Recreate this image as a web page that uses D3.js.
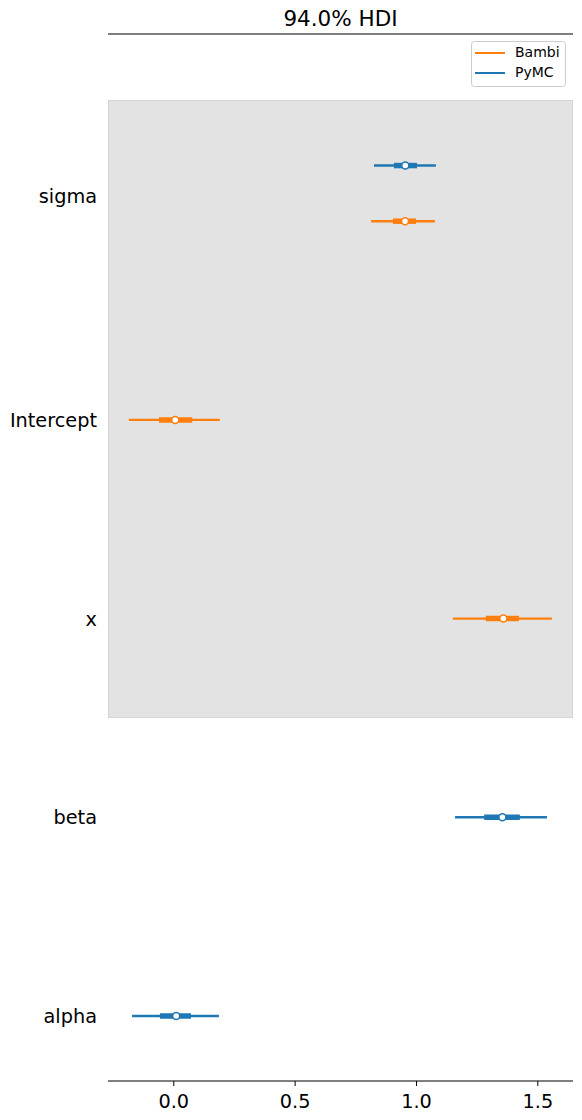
<!DOCTYPE html>
<html><head><meta charset="utf-8">
<script src="https://cdn.jsdelivr.net/npm/d3@7"></script>
<style>body{margin:0;background:#fff}svg{display:block;font-family:"DejaVu Sans",sans-serif}</style>
</head><body><div id="chart"></div>
<script>
// Rows (top to bottom) and estimates per model
const variables = ["sigma", "Intercept", "x", "beta", "alpha"];
const models = ["Bambi", "PyMC"];
const colors = {Bambi: "#ff7f0e", PyMC: "#1f77b4"};
// [variable, hdiLow, iqrLow, median, iqrHigh, hdiHigh]
const bambiEst = [
  ["sigma", 0.815, 0.905, 0.955, 1.000, 1.078],
  ["Intercept", -0.183, -0.059, 0.008, 0.078, 0.192],
  ["x", 1.152, 1.288, 1.360, 1.424, 1.560]
];
const pymcEst = [
  ["sigma", 0.827, 0.909, 0.956, 1.004, 1.082],
  ["beta", 1.161, 1.281, 1.356, 1.428, 1.540],
  ["alpha", -0.170, -0.055, 0.012, 0.073, 0.188]
];
const xTicks = [0.0, 0.5, 1.0, 1.5];
const titleText = "94.0% HDI";

const W = 582, H = 1120;
const mLeft = 108, mRight = 573, mTop = 34, mBottom = 1081;
const svg = d3.select("#chart").append("svg").attr("width", W).attr("height", H);

const x = d3.scaleLinear().domain([-0.269, 1.647]).range([mLeft, mRight]);
// row index: alpha=0 at bottom, sigma=4 at top
const rowIndex = v => variables.length - 1 - variables.indexOf(v);
const y = d3.scaleLinear().domain([0, 1]).range([1016, 817.3]);
const modelOffset = {Bambi: 0, PyMC: 0.28};
const allEst = bambiEst.concat(pymcEst);
const shared = v => allEst.filter(e => e[0] === v).length > 1;

// shaded band for Bambi variables
const bambiVars = bambiEst.map(d => d[0]);
svg.append("rect")
  .attr("x", mLeft + 0.5).attr("y", 100.5)
  .attr("width", mRight - mLeft - 1).attr("height", 617)
  .attr("fill", "#e3e3e3").attr("stroke", "#d5d5d5").attr("stroke-width", 1);

// top spine
svg.append("line").attr("x1", mLeft).attr("x2", mRight).attr("y1", mTop).attr("y2", mTop)
  .attr("stroke", "#000").attr("stroke-width", 1.1);

// bottom axis
const ax = svg.append("g").attr("transform", `translate(0,${mBottom})`)
  .call(d3.axisBottom(x).tickValues(xTicks).tickFormat(d3.format(".1f")).tickSize(5).tickPadding(8));
ax.select(".domain").attr("d", `M${mLeft},0H${mRight}`).attr("stroke-width", 1.1);
ax.selectAll("text").attr("font-size", 19.3).attr("fill", "#000").attr("font-family", "DejaVu Sans");
ax.selectAll(".tick line").attr("stroke-width", 1);

// y labels
const labelY = v => shared(v)
  ? d3.mean(models, m => y(rowIndex(v) + modelOffset[m])) + 3
  : y(rowIndex(v));
svg.append("g").selectAll("text").data(variables).join("text")
  .attr("x", 97).attr("y", d => labelY(d) + 1.5)
  .attr("text-anchor", "end").attr("dominant-baseline", "middle")
  .attr("font-size", 19.3).attr("fill", "#000").text(d => d);

// intervals
function drawModel(data, model) {
  const g = svg.append("g");
  const c = colors[model];
  const ry = d => y(rowIndex(d[0]) + (shared(d[0]) ? modelOffset[model] : 0));
  g.selectAll(".hdi").data(data).join("line").attr("class", "hdi")
    .attr("x1", d => x(d[1])).attr("x2", d => x(d[5]))
    .attr("y1", ry).attr("y2", ry).attr("stroke", c).attr("stroke-width", 2.4);
  g.selectAll(".iqr").data(data).join("line").attr("class", "iqr")
    .attr("x1", d => x(d[2])).attr("x2", d => x(d[4]))
    .attr("y1", ry).attr("y2", ry).attr("stroke", c).attr("stroke-width", 5.5);
  g.selectAll("circle").data(data).join("circle")
    .attr("cx", d => x(d[3])).attr("cy", ry).attr("r", 3.5)
    .attr("fill", "#fff").attr("stroke", c).attr("stroke-width", 1.5);
}
drawModel(pymcEst, "PyMC");
drawModel(bambiEst, "Bambi");

// title
svg.append("text").attr("x", (mLeft + mRight) / 2).attr("y", 26)
  .attr("text-anchor", "middle").attr("font-size", 21.5).attr("fill", "#000").text(titleText);

// legend
const lg = svg.append("g");
lg.append("rect").attr("x", 471.5).attr("y", 41.5).attr("width", 94).attr("height", 45)
  .attr("rx", 3).attr("fill", "#fff").attr("fill-opacity", 0.8).attr("stroke", "#cccccc");
models.forEach((m, i) => {
  const yy = 53 + i * 20;
  lg.append("line").attr("x1", 475).attr("x2", 505).attr("y1", yy).attr("y2", yy)
    .attr("stroke", colors[m]).attr("stroke-width", 2);
  lg.append("text").attr("x", 515).attr("y", yy).attr("dominant-baseline", "middle")
    .attr("font-size", 14).attr("fill", "#000").text(m);
});
</script></body></html>
